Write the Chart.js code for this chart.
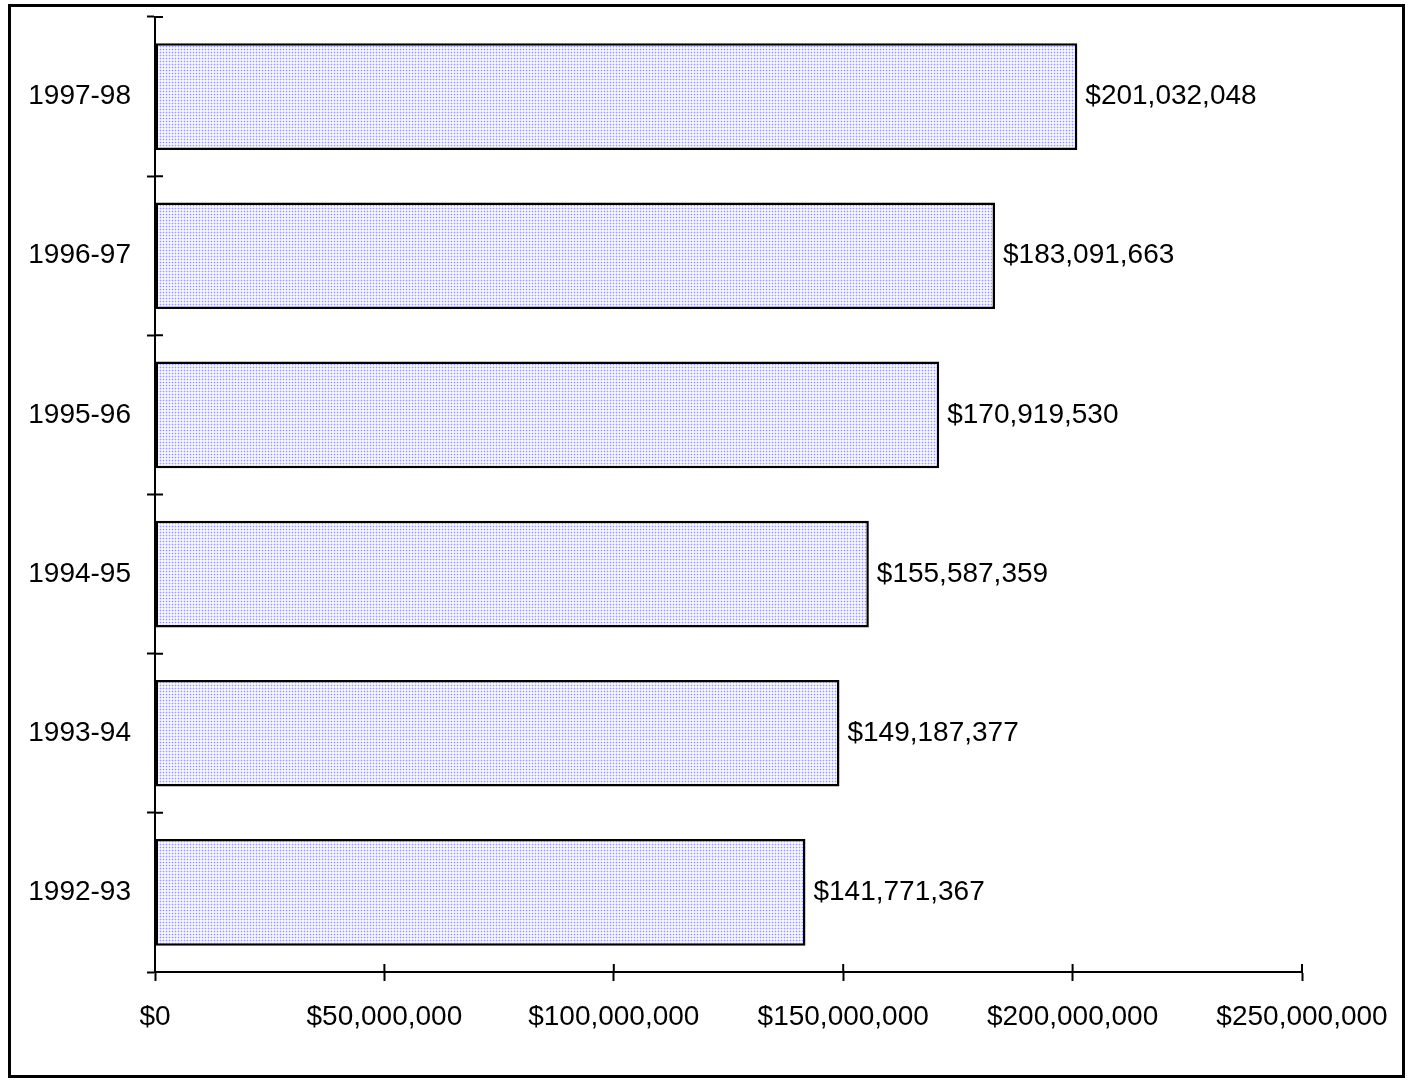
<!DOCTYPE html>
<html>
<head>
<meta charset="utf-8">
<script src="https://cdn.jsdelivr.net/npm/chart.js@4.4.1/dist/chart.umd.min.js"></script>
<style>
  html, body { margin: 0; padding: 0; background: #fff; }
  #wrap { position: relative; width: 1413px; height: 1080px; }
  #frame { position: absolute; left: 8px; top: 4px; width: 1397px; height: 1074px;
           box-sizing: border-box; border: 3px solid #000; pointer-events: none; }
</style>
</head>
<body>
<div id="wrap">
  <canvas id="chart" width="1413" height="1080"></canvas>
  <div id="frame"></div>
</div>
<script>
const years = ['1997-98', '1996-97', '1995-96', '1994-95', '1993-94', '1992-93'];
const funding = [201032048, 183091663, 170919530, 155587359, 149187377, 141771367];
const xTicks = [0, 50000000, 100000000, 150000000, 200000000, 250000000];

const fontFamily = "'Liberation Sans', Arial, sans-serif";
const money = v => '$' + v.toLocaleString('en-US');

// little dotted fill like the old spreadsheet pattern
const tile = document.createElement('canvas');
tile.width = 3;
tile.height = 3;
const tctx = tile.getContext('2d');
tctx.fillStyle = 'rgb(246,246,255)';
tctx.fillRect(0, 0, 3, 3);
tctx.fillStyle = 'rgb(222,222,255)';
tctx.fillRect(1, 0, 1, 3);
tctx.fillRect(0, 1, 3, 1);
tctx.fillStyle = 'rgb(150,150,255)';
tctx.fillRect(1, 1, 1, 1);

const ctx = document.querySelector('#chart').getContext('2d');
const dots = ctx.createPattern(tile, 'repeat');

// value labels at the end of each bar
const valueLabels = {
  id: 'valueLabels',
  afterDatasetsDraw(chart) {
    const c = chart.ctx;
    const meta = chart.getDatasetMeta(0);
    c.save();
    c.font = '28px ' + fontFamily;
    c.fillStyle = '#000';
    c.textAlign = 'left';
    c.textBaseline = 'middle';
    meta.data.forEach((bar, i) => {
      c.fillText(money(funding[i]), bar.x + 8, bar.y);
    });
    c.restore();
  }
};

// ticks that cross the axis line (inner half)
const innerTicks = {
  id: 'innerTicks',
  afterDraw(chart) {
    const c = chart.ctx;
    const xs = chart.scales.x;
    const ys = chart.scales.y;
    c.save();
    c.strokeStyle = '#000';
    c.lineWidth = 2;
    c.beginPath();
    xTicks.forEach(v => {
      const px = xs.getPixelForValue(v);
      c.moveTo(px, ys.bottom);
      c.lineTo(px, ys.bottom - 8);
    });
    const step = ys.getPixelForTick(1) - ys.getPixelForTick(0);
    for (let i = 0; i <= years.length; i++) {
      const py = ys.getPixelForTick(0) - step / 2 + step * i;
      c.moveTo(xs.left, py);
      c.lineTo(xs.left + 8, py);
    }
    c.stroke();
    c.restore();
  }
};

new Chart(ctx, {
  type: 'bar',
  data: {
    labels: years,
    datasets: [{
      data: funding,
      backgroundColor: dots,
      borderColor: '#000',
      borderWidth: 2.5,
      borderSkipped: false,
      barPercentage: 0.67,
      categoryPercentage: 1
    }]
  },
  options: {
    indexAxis: 'y',
    responsive: false,
    animation: false,
    layout: { padding: { top: 17, right: 111, bottom: 0, left: 0 } },
    plugins: {
      legend: { display: false },
      tooltip: { enabled: false }
    },
    scales: {
      x: {
        min: 0,
        max: 250000000,
        afterBuildTicks: scale => { scale.ticks = xTicks.map(v => ({ value: v })); },
        afterFit: scale => { scale.height = 108; },
        border: { color: '#000', width: 2 },
        grid: { drawOnChartArea: false, tickLength: 9, tickColor: '#000', tickWidth: 2 },
        ticks: {
          color: '#000',
          font: { family: fontFamily, size: 28 },
          padding: 19,
          maxRotation: 0,
          callback: v => money(v)
        }
      },
      y: {
        afterFit: scale => {
          scale.width = 155;
          scale.paddingTop = 0;
          scale.paddingBottom = 0;
        },
        border: { color: '#000', width: 2 },
        grid: { offset: true, drawOnChartArea: false, tickLength: 8, tickColor: '#000', tickWidth: 2 },
        ticks: {
          color: '#000',
          font: { family: fontFamily, size: 28 },
          padding: 16
        }
      }
    }
  },
  plugins: [valueLabels, innerTicks]
});
</script>
</body>
</html>
